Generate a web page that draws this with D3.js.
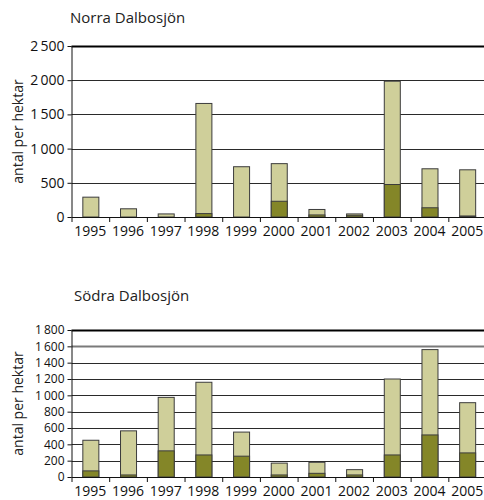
<!DOCTYPE html>
<html>
<head>
<meta charset="utf-8">
<script src="https://cdn.jsdelivr.net/npm/d3@7"></script>
<style>
  body { margin: 0; background: #fff; }
  svg { display: block; font-family: "Open Sans", sans-serif; }
</style>
</head>
<body>
<div id="chart-container"></div>
<script>
const width = 484;
const height = 500;

const years = ["1995","1996","1997","1998","1999","2000","2001","2002","2003","2004","2005"];

// Norra Dalbosjön
const norraTotal = [290, 120, 45, 1660, 735, 780, 110, 45, 1985, 705, 690];
const norraDark  = [0, 0, 0, 50, 0, 230, 30, 25, 475, 135, 15];
const norraTicks = [0, 500, 1000, 1500, 2000, 2500];

// Södra Dalbosjön
const sodraTotal = [450, 565, 975, 1160, 550, 170, 180, 90, 1200, 1560, 910];
const sodraDark  = [75, 25, 320, 270, 255, 25, 45, 25, 270, 515, 295];
const sodraTicks = [0, 200, 400, 600, 800, 1000, 1200, 1400, 1600, 1800];

const lightColor = "#cfcf9a";
const darkColor = "#848628";
const edgeColor = "#3c3c3c";

const fmt = d3.formatLocale({ decimal: ",", thousands: "\u2009", grouping: [3], currency: ["", ""] }).format(",d");

const svg = d3.select("#chart-container").append("svg")
  .attr("width", width)
  .attr("height", height);

let drawPanel = (cfg) => {
  const g = svg.append("g");
  const left = 71.5, right = 486;

  const x = d3.scaleBand()
    .domain(years)
    .range([left, right])
    .paddingInner(0.575)
    .paddingOuter(0.2875);

  const xEdge = d3.scaleLinear()
    .domain([0, years.length])
    .range([left, right]);

  const y = d3.scaleLinear()
    .domain([0, cfg.max])
    .range([cfg.bottom, cfg.top]);

  // title
  g.append("text")
    .attr("x", cfg.titleX)
    .attr("y", cfg.titleY)
    .attr("font-size", 15)
    .attr("fill", "#222")
    .text(cfg.title);

  // y label
  g.append("text")
    .attr("transform", `translate(23,${(cfg.top + cfg.bottom) / 2}) rotate(-90)`)
    .attr("text-anchor", "middle")
    .attr("font-size", 14)
    .attr("fill", "#222")
    .text("antal per hektar");

  // gridlines
  g.append("g")
    .selectAll("line")
    .data(cfg.ticks.filter(t => t > 0))
    .enter().append("line")
    .attr("x1", left)
    .attr("x2", width)
    .attr("y1", d => Math.round(y(d)) + 0.5)
    .attr("y2", d => Math.round(y(d)) + 0.5)
    .attr("stroke", d => d === cfg.max ? "#000" : (d === cfg.grayTick ? "#7a7a7a" : "#2a2a2a"))
    .attr("stroke-width", d => d === cfg.max ? 2 : (d === cfg.grayTick ? 2 : 1));

  // y axis
  const yAxis = g.append("g")
    .attr("transform", `translate(${left},0)`)
    .call(d3.axisLeft(y).tickValues(cfg.ticks).tickSize(4).tickPadding(3).tickFormat(fmt));
  yAxis.select(".domain").attr("stroke", "#111").attr("d", `M0.5,${cfg.top}V${cfg.bottom}`);
  yAxis.selectAll(".tick line").attr("stroke", "#111");
  yAxis.selectAll("text")
    .attr("font-size", cfg.yFont)
    .attr("font-family", "Open Sans, sans-serif")
    .attr("fill", "#111");

  // bars
  const bars = g.append("g");
  bars.selectAll(".light")
    .data(years)
    .enter().append("rect")
    .attr("class", "light")
    .attr("x", d => x(d) + 0.5)
    .attr("width", x.bandwidth())
    .attr("y", (d, i) => y(cfg.total[i]))
    .attr("height", (d, i) => y(0) - y(cfg.total[i]))
    .attr("fill", lightColor)
    .attr("stroke", edgeColor)
    .attr("stroke-width", 1);

  bars.selectAll(".dark")
    .data(years.filter((d, i) => cfg.dark[i] > 0))
    .enter().append("rect")
    .attr("class", "dark")
    .attr("x", d => x(d) + 0.5)
    .attr("width", x.bandwidth())
    .attr("y", d => y(cfg.dark[years.indexOf(d)]))
    .attr("height", d => y(0) - y(cfg.dark[years.indexOf(d)]))
    .attr("fill", darkColor)
    .attr("stroke", edgeColor)
    .attr("stroke-width", 1);

  // x axis: baseline + ticks at band edges
  const xAxis = g.append("g")
    .attr("transform", `translate(0,${cfg.bottom})`)
    .call(d3.axisBottom(xEdge).tickValues(d3.range(years.length + 1)).tickSize(5).tickFormat(""));
  xAxis.select(".domain").attr("stroke", "#111").attr("d", `M${left},0.5H${width}`);
  xAxis.selectAll(".tick line").attr("stroke", "#111");

  // year labels
  g.append("g")
    .selectAll("text")
    .data(years)
    .enter().append("text")
    .attr("x", d => x(d) + x.bandwidth() / 2)
    .attr("y", cfg.bottom + 19)
    .attr("text-anchor", "middle")
    .attr("font-size", 14)
    .attr("fill", "#111")
    .text(d => d);
};

drawPanel({
  title: "Norra Dalbosjön", titleX: 70, titleY: 23,
  top: 46, bottom: 217, max: 2500, ticks: norraTicks, yFont: 14,
  total: norraTotal, dark: norraDark, grayTick: null
});

drawPanel({
  title: "Södra Dalbosjön", titleX: 74, titleY: 301,
  top: 330, bottom: 477, max: 1800, ticks: sodraTicks, yFont: 12,
  total: sodraTotal, dark: sodraDark, grayTick: 1600
});
</script>
</body>
</html>
